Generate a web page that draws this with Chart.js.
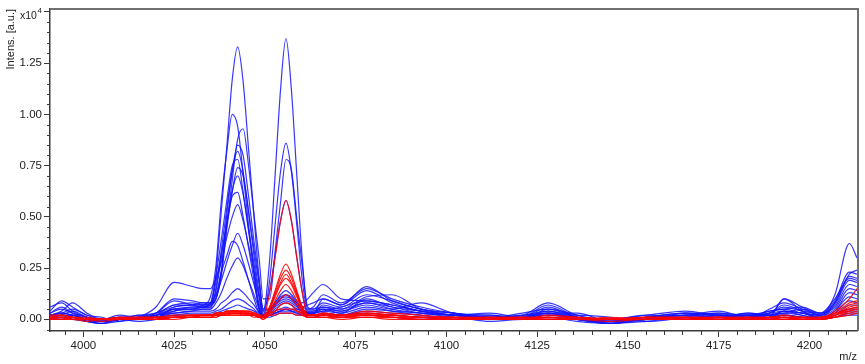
<!DOCTYPE html>
<html>
<head>
<meta charset="utf-8">
<script src="https://cdn.jsdelivr.net/npm/chart.js@4/dist/chart.umd.min.js"></script>
<style>
  html, body { margin: 0; padding: 0; background: #fff; }
  #wrap { width: 865px; height: 364px; }
</style>
</head>
<body>
<div id="wrap"><canvas id="spectra" width="865" height="364"></canvas></div>
<script>
// m/z positions shared by every spectrum
const mz = [3990.8, 3994, 3997, 4001, 4005, 4010, 4015, 4020, 4025, 4030,
    4033, 4035, 4036.5, 4038, 4039.5, 4041, 4042.5, 4044, 4045.5, 4047, 4048.5, 4049.5,
    4051.3, 4052.8, 4054.3, 4055.8, 4057.3, 4058.8, 4060.3, 4061.8, 4063.3,
    4066, 4071, 4078, 4085, 4093, 4102, 4112, 4121, 4128, 4136, 4145, 4155, 4166, 4175, 4183, 4189, 4193, 4198, 4203, 4207, 4211, 4213.1]

// intensities (x10^4) - blue group
const b01 = [0.03,0.05,0.03,0.01,-0.01,0.00,0.01,0.02,0.04,0.05, 0.06,0.06,0.22,0.53,0.84,1.17,1.33,1.16,0.83,0.50,0.18,0.04, 0.29,0.70,1.12,1.37,1.12,0.70,0.29,0.05,0.05, 0.06,0.04,0.08,0.05,0.03,0.02,0.01,0.02,0.04,0.01,0.00,0.01,0.02,0.01,0.03,0.02,0.04,0.03,0.02,0.08,0.22,0.24]
const b02 = [0.02,0.04,0.08,0.03,0.00,0.01,0.00,0.02,0.05,0.06, 0.07,0.11,0.26,0.58,0.82,1.00,0.94,0.71,0.46,0.22,0.04,0.02, 0.19,0.46,0.72,0.86,0.72,0.46,0.19,0.04,0.04, 0.05,0.03,0.10,0.06,0.04,0.02,0.00,0.01,0.03,0.00,-0.01,0.01,0.03,0.02,0.01,0.03,0.06,0.04,0.03,0.10,0.20,0.19]
const b03 = [0.01,0.03,0.02,0.00,-0.01,0.00,0.01,0.03,0.06,0.07, 0.08,0.08,0.10,0.24,0.46,0.68,0.88,0.93,0.75,0.51,0.28,0.10, 0.10,0.33,0.57,0.78,0.73,0.49,0.26,0.06,0.05, 0.08,0.06,0.12,0.09,0.05,0.03,0.01,0.00,0.05,0.02,-0.02,0.00,0.02,0.03,0.00,0.05,0.08,0.05,0.02,0.12,0.37,0.30]
const b04 = [0.04,0.09,0.06,0.02,0.00,0.01,0.02,0.03,0.07,0.08, 0.07,0.07,0.10,0.23,0.51,0.72,0.85,0.80,0.60,0.38,0.18,0.05, 0.14,0.31,0.48,0.58,0.48,0.30,0.13,0.03,0.03, 0.10,0.07,0.14,0.08,0.04,0.02,0.03,0.01,0.06,0.01,0.00,0.02,0.04,0.02,0.02,0.04,0.05,0.06,0.03,0.09,0.23,0.22]
const b05 = [0.00,0.02,0.01,-0.01,-0.02,0.00,0.01,0.02,0.03,0.04, 0.05,0.05,0.15,0.34,0.54,0.73,0.82,0.72,0.52,0.31,0.12,0.03, 0.04,0.07,0.10,0.11,0.10,0.08,0.06,0.05,0.06, 0.12,0.08,0.15,0.10,0.06,0.03,0.01,0.02,0.08,0.02,0.00,0.00,0.03,0.01,0.03,0.02,0.10,0.06,0.02,0.08,0.21,0.20]
const b06 = [0.06,0.08,0.04,0.01,0.00,0.01,0.00,0.03,0.09,0.07, 0.06,0.08,0.21,0.39,0.58,0.75,0.78,0.62,0.43,0.24,0.05,0.02, 0.05,0.08,0.12,0.14,0.12,0.09,0.08,0.10,0.13, 0.17,0.10,0.09,0.07,0.04,0.02,0.02,0.00,0.03,0.03,-0.01,0.01,0.02,0.04,0.01,0.03,0.07,0.04,0.01,0.07,0.19,0.18]
const b07 = [0.02,0.03,0.05,0.02,0.01,-0.01,0.02,0.01,0.06,0.07, 0.07,0.07,0.10,0.21,0.44,0.62,0.74,0.70,0.53,0.34,0.16,0.05, 0.05,0.08,0.11,0.12,0.11,0.08,0.05,0.03,0.03, 0.07,0.05,0.11,0.12,0.05,0.03,0.00,0.01,0.02,0.02,0.01,-0.01,0.01,0.03,0.02,0.02,0.03,0.05,0.03,0.06,0.17,0.16]
const b08 = [0.01,0.01,0.02,0.00,-0.01,0.01,0.00,0.02,0.05,0.05, 0.06,0.06,0.14,0.30,0.47,0.63,0.70,0.61,0.44,0.27,0.10,0.02, 0.03,0.05,0.07,0.08,0.07,0.05,0.04,0.03,0.03, 0.05,0.04,0.07,0.05,0.08,0.03,0.02,0.01,0.04,0.00,-0.02,0.01,0.03,0.02,0.01,0.04,0.05,0.03,0.02,0.05,0.15,0.14]
const b09 = [0.03,0.06,0.03,0.01,0.00,0.02,0.01,0.01,0.04,0.06, 0.06,0.07,0.18,0.32,0.47,0.60,0.62,0.50,0.35,0.19,0.04,0.01, 0.02,0.04,0.05,0.06,0.05,0.05,0.04,0.03,0.03, 0.04,0.06,0.09,0.07,0.04,0.02,0.01,0.03,0.05,0.01,0.00,0.02,0.01,0.02,0.02,0.01,0.04,0.03,0.01,0.04,0.13,0.12]
const b10 = [0.01,0.02,0.04,0.01,-0.01,0.00,0.01,0.06,0.18,0.16, 0.15,0.15,0.20,0.28,0.40,0.50,0.56,0.48,0.36,0.23,0.10,0.04, 0.05,0.07,0.09,0.10,0.09,0.07,0.06,0.07,0.08, 0.10,0.07,0.16,0.09,0.05,0.02,0.01,0.02,0.03,0.00,-0.01,0.00,0.02,0.01,0.02,0.03,0.04,0.02,0.01,0.04,0.11,0.10]
const b11 = [0.00,0.01,0.01,-0.01,-0.02,0.00,0.00,0.03,0.10,0.09, 0.08,0.08,0.12,0.19,0.28,0.36,0.42,0.36,0.27,0.17,0.07,0.02, 0.02,0.03,0.04,0.05,0.04,0.04,0.03,0.02,0.02, 0.03,0.02,0.05,0.04,0.03,0.01,0.00,0.01,0.07,0.01,-0.02,-0.01,0.01,0.01,0.00,0.02,0.03,0.02,0.00,0.03,0.09,0.08]
const b12 = [0.02,0.03,0.02,0.00,-0.01,0.01,0.00,0.02,0.07,0.07, 0.07,0.08,0.12,0.23,0.31,0.38,0.36,0.28,0.19,0.10,0.03,0.02, 0.04,0.06,0.08,0.09,0.08,0.06,0.04,0.04,0.04, 0.06,0.05,0.08,0.06,0.03,0.02,0.01,0.00,0.02,0.01,-0.01,0.00,0.01,0.00,0.01,0.02,0.02,0.01,0.01,0.02,0.07,0.07]
const b13 = [0.01,0.02,0.02,0.00,-0.01,0.00,0.01,0.01,0.05,0.05, 0.05,0.05,0.08,0.13,0.20,0.26,0.30,0.26,0.19,0.12,0.05,0.02, 0.02,0.03,0.04,0.04,0.04,0.03,0.03,0.02,0.02, 0.03,0.02,0.04,0.03,0.02,0.00,0.01,0.01,0.02,0.00,-0.02,0.01,0.00,0.01,0.01,0.00,0.02,0.01,0.00,0.02,0.05,0.05]
const b14 = [0.00,0.00,0.01,-0.01,-0.01,0.00,0.00,0.01,0.03,0.04, 0.04,0.04,0.05,0.08,0.10,0.13,0.15,0.13,0.10,0.07,0.03,0.02, 0.04,0.07,0.10,0.12,0.10,0.07,0.04,0.03,0.03, 0.04,0.03,0.06,0.04,0.02,0.01,0.00,0.01,0.03,0.00,-0.01,0.01,0.00,0.02,0.00,0.01,0.02,0.01,0.00,0.02,0.04,0.04]
const b15 = [0.00,0.01,0.00,-0.01,-0.02,-0.01,0.00,0.01,0.02,0.03, 0.03,0.03,0.04,0.05,0.07,0.09,0.10,0.09,0.07,0.05,0.02,0.01, 0.02,0.03,0.04,0.05,0.04,0.03,0.02,0.02,0.02, 0.02,0.02,0.03,0.02,0.01,0.00,0.00,0.00,0.01,-0.01,-0.02,0.00,0.01,0.00,0.01,0.00,0.01,0.01,0.00,0.01,0.03,0.03]
const b16 = [0.01,0.00,0.01,0.00,-0.01,0.00,-0.01,0.00,0.02,0.02, 0.02,0.02,0.03,0.04,0.05,0.06,0.07,0.06,0.05,0.04,0.02,0.01, 0.01,0.02,0.03,0.03,0.03,0.02,0.02,0.01,0.01, 0.02,0.01,0.02,0.01,0.00,0.01,-0.01,0.00,0.00,0.00,-0.01,0.00,0.00,0.01,0.00,0.01,0.10,0.04,0.00,0.01,0.02,0.02]

// intensities (x10^4) - red group
const r01 = [0.01,0.02,0.01,0.00,0.00,0.01,0.00,0.01,0.01,0.02, 0.02,0.02,0.03,0.03,0.04,0.04,0.04,0.04,0.03,0.03,0.02,0.01, 0.13,0.30,0.48,0.58,0.48,0.30,0.13,0.02,0.02, 0.03,0.02,0.04,0.03,0.02,0.01,0.01,0.00,0.02,0.01,0.00,0.01,0.01,0.00,0.01,0.01,0.02,0.01,0.01,0.03,0.05,0.06]
const r02 = [0.00,0.01,0.01,0.00,0.00,0.00,0.01,0.01,0.01,0.01, 0.02,0.02,0.02,0.03,0.03,0.04,0.04,0.03,0.03,0.02,0.02,0.01, 0.06,0.14,0.22,0.27,0.22,0.14,0.06,0.02,0.02, 0.03,0.02,0.03,0.02,0.01,0.00,0.01,0.01,0.01,0.00,0.00,0.01,0.00,0.01,0.00,0.01,0.01,0.01,0.00,0.04,0.10,0.15]
const r03 = [0.01,0.01,0.00,0.00,-0.01,0.00,0.00,0.00,0.01,0.01, 0.01,0.01,0.02,0.02,0.03,0.03,0.03,0.03,0.03,0.02,0.01,0.01, 0.06,0.13,0.20,0.24,0.20,0.13,0.06,0.02,0.02, 0.02,0.01,0.03,0.02,0.01,0.01,0.00,0.00,0.01,0.01,0.00,0.00,0.01,0.01,0.00,0.00,0.01,0.00,0.00,0.02,0.07,0.08]
const r04 = [0.00,0.00,0.01,0.00,0.00,0.00,0.00,0.01,0.01,0.01, 0.02,0.02,0.02,0.03,0.03,0.03,0.03,0.03,0.02,0.02,0.01,0.01, 0.05,0.12,0.18,0.22,0.18,0.12,0.05,0.02,0.02, 0.02,0.02,0.02,0.01,0.01,0.00,0.00,0.01,0.00,0.00,0.01,0.00,0.00,0.01,0.01,0.00,0.00,0.01,0.00,0.02,0.05,0.06]
const r05 = [0.01,0.01,0.01,0.00,0.00,0.01,0.01,0.00,0.01,0.02, 0.02,0.02,0.03,0.03,0.04,0.04,0.04,0.04,0.04,0.03,0.02,0.01, 0.05,0.11,0.17,0.20,0.17,0.11,0.05,0.02,0.02, 0.02,0.01,0.02,0.02,0.01,0.01,0.00,0.00,0.01,0.00,0.00,0.01,0.01,0.00,0.00,0.01,0.01,0.00,0.01,0.03,0.08,0.09]
const r06 = [0.00,0.00,0.00,-0.01,0.00,0.00,0.00,0.00,0.01,0.01, 0.01,0.01,0.02,0.02,0.02,0.03,0.03,0.02,0.02,0.02,0.01,0.00, 0.04,0.09,0.14,0.17,0.14,0.09,0.04,0.01,0.01, 0.01,0.01,0.02,0.01,0.00,0.00,0.00,0.01,0.00,0.00,-0.01,0.00,0.00,0.00,0.01,0.00,0.00,0.00,0.00,0.01,0.04,0.05]
const r07 = [0.01,0.01,0.00,0.00,0.00,0.00,0.01,0.01,0.01,0.01, 0.02,0.02,0.02,0.02,0.03,0.03,0.03,0.03,0.03,0.02,0.01,0.01, 0.03,0.07,0.10,0.12,0.10,0.07,0.03,0.01,0.01, 0.02,0.01,0.01,0.01,0.01,0.00,0.00,0.00,0.01,0.00,0.00,0.00,0.00,0.01,0.00,0.00,0.01,0.00,0.00,0.02,0.06,0.07]
const r08 = [0.00,0.00,0.00,0.00,0.00,0.00,0.00,0.00,0.00,0.01, 0.01,0.01,0.01,0.02,0.02,0.02,0.02,0.02,0.02,0.01,0.01,0.00, 0.02,0.04,0.07,0.08,0.07,0.04,0.02,0.01,0.01, 0.01,0.00,0.01,0.01,0.00,0.00,0.00,0.00,0.00,0.00,0.00,0.00,0.00,0.00,0.00,0.00,0.00,0.00,0.00,0.01,0.03,0.04]
const r09 = [0.02,0.02,0.01,0.01,0.00,0.01,0.01,0.01,0.02,0.02, 0.02,0.02,0.03,0.03,0.04,0.04,0.04,0.04,0.04,0.03,0.02,0.02, 0.03,0.04,0.05,0.05,0.05,0.04,0.03,0.02,0.02, 0.02,0.02,0.02,0.02,0.01,0.01,0.01,0.01,0.01,0.01,0.00,0.01,0.01,0.01,0.01,0.01,0.01,0.01,0.01,0.02,0.04,0.05]
const r10 = [0.00,0.01,0.00,0.00,0.00,0.00,0.00,0.00,0.01,0.01, 0.01,0.01,0.01,0.02,0.02,0.02,0.02,0.02,0.02,0.02,0.01,0.01, 0.02,0.02,0.03,0.03,0.03,0.02,0.02,0.01,0.01, 0.01,0.01,0.01,0.00,0.00,0.00,0.00,0.00,0.00,0.00,0.00,0.00,0.00,0.00,0.00,0.00,0.00,0.00,0.00,0.01,0.02,0.03]

const blueSpectra = [b01, b02, b03, b04, b05, b06, b07, b08, b09, b10, b11, b12, b13, b14, b15, b16]
const redSpectra = [r01, r02, r03, r04, r05, r06, r07, r08, r09, r10]

const xMin = 3990.8, xMax = 4213.1
const yMin = -0.057, yMax = 1.515
const textColor = '#222'
const axisColor = '#3a3a3a'
const fontFamily = "'Liberation Sans', Arial, sans-serif"

function toPoints(values){
    return values.map((v, i) => ({x: mz[i], y: v}))
}

function spectrumDataset(values, color, name){
    return {
        label: name,
        data: toPoints(values),
        borderColor: color,
        borderWidth: 1.2,
        pointRadius: 0,
        fill: false,
        cubicInterpolationMode: 'monotone'
    }
}

const datasets = []
redSpectra.forEach((s, i) => datasets.push(spectrumDataset(s, 'rgba(255,0,0,0.9)', 'red ' + (i + 1))))
blueSpectra.forEach((s, i) => datasets.push(spectrumDataset(s, 'rgba(20,20,255,0.85)', 'blue ' + (i + 1))))

// minor ticks, frame on top/right, x10^4 and m/z labels
const decorations = {
    id: 'decorations',
    afterDraw(chart){
        const ctx = chart.ctx
        const area = chart.chartArea
        const xs = chart.scales.x
        const ys = chart.scales.y
        ctx.save()
        ctx.strokeStyle = axisColor
        ctx.lineWidth = 1
        ctx.beginPath()
        for(let v = 3995; v < xMax; v += 5){
            if(v % 25 === 0) continue
            const px = Math.round(xs.getPixelForValue(v)) + 0.5
            ctx.moveTo(px, area.bottom)
            ctx.lineTo(px, area.bottom + 4)
        }
        for(let k = -1; k * 0.05 < yMax; k++){
            if(k % 5 === 0) continue
            const py = Math.round(ys.getPixelForValue(k * 0.05)) + 0.5
            ctx.moveTo(area.left, py)
            ctx.lineTo(area.left - 3, py)
        }
        ctx.stroke()

        ctx.strokeStyle = '#707070'
        ctx.lineWidth = 2
        ctx.beginPath()
        ctx.moveTo(area.left, area.top)
        ctx.lineTo(area.right + 1, area.top)
        ctx.lineTo(area.right + 1, area.bottom)
        ctx.stroke()

        ctx.fillStyle = textColor
        ctx.textBaseline = 'alphabetic'
        ctx.textAlign = 'left'
        ctx.font = '10.5px ' + fontFamily
        ctx.fillText('x10', 20, 19)
        const w = ctx.measureText('x10').width
        ctx.font = '8px ' + fontFamily
        ctx.fillText('4', 20 + w + 0.5, 13)
        ctx.font = '11px ' + fontFamily
        ctx.textAlign = 'right'
        ctx.fillText('m/z', 857, 360)
        ctx.restore()
    }
}

new Chart(document.getElementById('spectra'), {
    type: 'line',
    data: { datasets: datasets },
    plugins: [decorations],
    options: {
        responsive: false,
        animation: false,
        layout: { padding: { top: 8, right: 8, left: 0, bottom: 0 } },
        plugins: { legend: { display: false }, tooltip: { enabled: false } },
        scales: {
            x: {
                type: 'linear',
                min: xMin,
                max: xMax,
                afterFit: scale => { scale.height = 33 },
                border: { display: true, color: axisColor, width: 1.5 },
                grid: { drawOnChartArea: false, tickLength: 6, tickColor: axisColor },
                ticks: {
                    stepSize: 25,
                    includeBounds: false,
                    padding: 2,
                    maxRotation: 0,
                    color: textColor,
                    font: { family: fontFamily, size: 11.5 },
                    callback: v => String(v)
                }
            },
            y: {
                min: yMin,
                max: yMax,
                afterFit: scale => { scale.width = 50 },
                border: { display: true, color: axisColor, width: 1.5 },
                grid: { drawOnChartArea: false, tickLength: 6, tickColor: axisColor },
                title: {
                    display: true,
                    text: 'Intens. [a.u.]',
                    align: 'end',
                    color: textColor,
                    font: { family: fontFamily, size: 11 },
                    padding: { top: 4, bottom: 0 }
                },
                ticks: {
                    stepSize: 0.25,
                    includeBounds: false,
                    padding: 2,
                    color: textColor,
                    font: { family: fontFamily, size: 11.5 },
                    // the top tick carries the x10^4 exponent instead of a number
                    callback: v => v > 1.4 ? '' : v.toFixed(2)
                }
            }
        }
    }
})
</script>
</body>
</html>
